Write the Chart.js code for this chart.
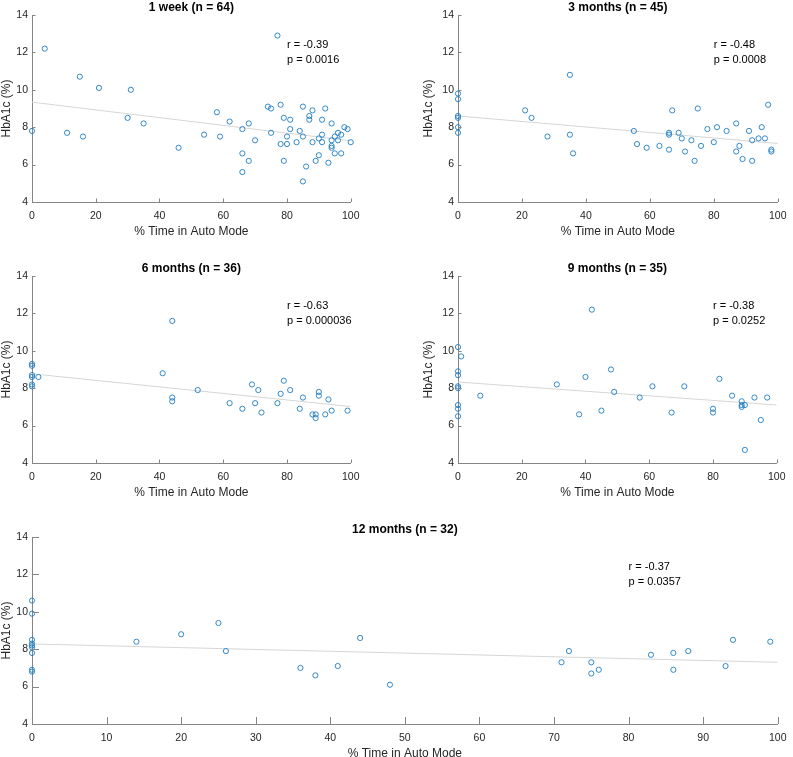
<!DOCTYPE html>
<html>
<head>
<meta charset="utf-8">
<script src="https://cdn.jsdelivr.net/npm/chart.js@4/dist/chart.umd.min.js"></script>
<style>
  html, body { margin: 0; padding: 0; background: #fff; }
  body { width: 793px; height: 757px; position: relative; overflow: hidden; }
  .panel { position: absolute; }
</style>
</head>
<body>
<script>
// values
const week1Time = [0, 4, 11, 15, 16, 21, 30, 31, 35, 46, 54, 58, 59, 62, 66, 66, 66, 68, 68, 70, 74, 75, 75, 77, 78, 78, 79, 79, 80, 80, 81, 81, 83, 84, 85, 85, 85, 86, 87, 87, 88, 88, 89, 90, 90, 91, 91, 91, 92, 93, 94, 94, 94, 94, 95, 95, 96, 96, 97, 97, 98, 99, 100];
const week1HbA1c = [7.8, 12.2, 7.7, 10.7, 7.5, 10.1, 8.5, 10.0, 8.2, 6.9, 7.6, 8.8, 7.5, 8.3, 7.9, 6.6, 5.6, 8.2, 6.2, 7.3, 9.1, 9.0, 7.7, 12.9, 9.2, 7.1, 8.5, 6.2, 7.5, 7.1, 8.4, 7.9, 7.2, 7.8, 9.1, 7.5, 5.1, 5.9, 8.6, 8.4, 8.9, 7.2, 6.2, 6.5, 7.4, 8.4, 7.6, 7.2, 9.0, 6.1, 8.2, 7.3, 7.0, 6.9, 7.5, 6.6, 7.7, 7.3, 7.6, 6.6, 8.0, 7.9, 7.2];

const threeMonthTime = [0, 0, 0, 0, 0, 0, 21, 23, 28, 35, 35, 36, 55, 56, 59, 63, 66, 66, 66, 67, 69, 70, 71, 73, 74, 75, 76, 78, 80, 81, 84, 87, 87, 88, 89, 91, 92, 92, 94, 95, 96, 97, 98, 98];
const threeMonthHbA1c = [9.8, 9.5, 8.6, 8.5, 8.0, 7.7, 8.9, 8.5, 7.5, 10.8, 7.6, 6.6, 7.8, 7.1, 6.9, 7.0, 6.8, 7.7, 7.6, 8.9, 7.7, 7.4, 6.7, 7.3, 6.2, 9.0, 7.0, 7.9, 7.2, 8.0, 7.8, 8.2, 6.7, 7.0, 6.3, 7.8, 6.2, 7.3, 7.4, 8.0, 7.4, 9.2, 6.8, 6.7];

const sixMonthTime = [0, 0, 0, 0, 0, 0, 2, 41, 44, 44, 44, 52, 62, 66, 69, 70, 71, 72, 77, 78, 79, 81, 84, 85, 88, 89, 89, 90, 90, 92, 93, 94, 99];
const sixMonthHbA1c = [9.3, 9.2, 8.7, 8.6, 8.2, 8.1, 8.6, 8.8, 11.6, 7.5, 7.3, 7.9, 7.2, 6.9, 8.2, 7.2, 7.9, 6.7, 7.2, 7.7, 8.4, 7.9, 6.9, 7.5, 6.6, 6.6, 6.4, 7.8, 7.6, 6.6, 7.4, 6.8, 6.8];

const nineMonthTime = [0, 1, 0, 0, 0, 0, 0, 0, 0, 7, 31, 38, 40, 42, 45, 48, 49, 57, 61, 67, 71, 80, 80, 82, 86, 89, 89, 89, 90, 90, 93, 95, 97];
const nineMonthHbA1c = [10.2, 9.7, 8.9, 8.7, 8.1, 8.0, 7.1, 6.9, 6.5, 7.6, 8.2, 6.6, 8.6, 12.2, 6.8, 9.0, 7.8, 7.5, 8.1, 6.7, 8.1, 6.9, 6.7, 8.5, 7.6, 7.3, 7.1, 7.0, 7.1, 4.7, 7.5, 6.3, 7.5];

const twelveMonthTime = [0, 0, 0, 0, 0, 0, 0, 0, 0, 14, 20, 25, 26, 36, 38, 41, 44, 48, 71, 72, 75, 75, 76, 83, 86, 86, 88, 93, 94, 99];
const twelveMonthHbA1c = [10.6, 9.9, 8.5, 8.3, 8.2, 8.1, 7.8, 6.9, 6.8, 8.4, 8.8, 9.4, 7.9, 7.0, 6.6, 7.1, 8.6, 6.1, 7.3, 7.9, 7.3, 6.7, 6.9, 7.7, 7.8, 6.9, 7.9, 7.1, 8.5, 8.4];

// fitted line: HbA1c at 0 % and at 100 % time in auto mode
const fitAtZero = [9.34, 8.6, 8.77, 8.33, 8.28];
const fitAtHundred = [7.27, 7.13, 7.02, 7.1, 7.3];

const panelTitles = ['1 week (n = 64)', '3 months (n = 45)', '6 months (n = 36)', '9 months (n = 35)', '12 months (n = 32)'];
const rValues = ['-0.39', '-0.48', '-0.63', '-0.38', '-0.37'];
const pValues = ['0.0016', '0.0008', '0.000036', '0.0252', '0.0357'];

const xTitle = '% Time in Auto Mode';
const yTitle = 'HbA1c (%)';

const FONT = '"Liberation Sans", Arial, Helvetica, sans-serif';
const AXIS_COLOR = '#858585';
const TEXT_COLOR = '#262626';
const MARKER_COLOR = 'rgb(30,125,195)';
const FIT_COLOR = '#d6d6d6';

// plot-area rectangles (page pixels) for the five axes
const panels = [
    { xs: week1Time, ys: week1HbA1c, l: 32, t: 15, r: 355, b: 202, step: 20, tick: 3.5, gap: 25 },
    { xs: threeMonthTime, ys: threeMonthHbA1c, l: 458, t: 15, r: 782, b: 202, step: 20, tick: 3.5, gap: 29 },
    { xs: sixMonthTime, ys: sixMonthHbA1c, l: 32, t: 276, r: 355, b: 463, step: 20, tick: 3.5, gap: 25 },
    { xs: nineMonthTime, ys: nineMonthHbA1c, l: 458, t: 276, r: 781, b: 463, step: 20, tick: 3.5, gap: 29 },
    { xs: twelveMonthTime, ys: twelveMonthHbA1c, l: 32, t: 537, r: 782, b: 724, step: 10, tick: 7, gap: 25 },
];

const LEFT = 40, TOP = 22, RIGHT = 12, BOTTOM = 38;

// MATLAB-style tick marks pointing into the plot
const innerTicks = {
    id: 'innerTicks',
    afterDraw(chart, args, opts) {
        const { ctx, chartArea, scales: { x, y } } = chart;
        ctx.save();
        ctx.strokeStyle = AXIS_COLOR;
        ctx.lineWidth = 1;
        ctx.beginPath();
        x.ticks.forEach((t) => {
            const px = Math.round(x.getPixelForValue(t.value)) + 0.5;
            ctx.moveTo(px, chartArea.bottom);
            ctx.lineTo(px, chartArea.bottom - opts.length);
        });
        y.ticks.forEach((t) => {
            const py = Math.round(y.getPixelForValue(t.value)) + 0.5;
            ctx.moveTo(chartArea.left, py);
            ctx.lineTo(chartArea.left + opts.length, py);
        });
        ctx.stroke();
        ctx.restore();
    },
};

// r / p text placed at data coordinates, two lines centred on the anchor
const statsLabel = {
    id: 'statsLabel',
    afterDatasetsDraw(chart, args, opts) {
        const { ctx, scales: { x, y } } = chart;
        const px = x.getPixelForValue(opts.at[0]);
        const py = y.getPixelForValue(opts.at[1]);
        ctx.save();
        ctx.font = '11px ' + FONT;
        ctx.fillStyle = '#000';
        ctx.textAlign = 'left';
        ctx.textBaseline = 'middle';
        const mid = (opts.lines.length - 1) / 2;
        opts.lines.forEach((s, i) => ctx.fillText(s, px, py + (i - mid) * 15));
        ctx.restore();
    },
};

panels.forEach((p, i) => {
    const div = document.createElement('div');
    div.className = 'panel';
    const w = p.r - p.l + LEFT + RIGHT;
    const h = p.b - p.t + TOP + BOTTOM;
    div.style.left = (p.l - LEFT) + 'px';
    div.style.top = (p.t - TOP) + 'px';
    div.style.width = w + 'px';
    div.style.height = h + 'px';
    const canvas = document.createElement('canvas');
    canvas.width = w;
    canvas.height = h;
    div.appendChild(canvas);
    document.body.appendChild(div);

    const points = p.xs.map((x, k) => ({ x, y: p.ys[k] }));

    new Chart(canvas, {
        type: 'scatter',
        data: {
            datasets: [
                {
                    data: points,
                    pointStyle: 'circle',
                    pointRadius: 2.6,
                    pointBorderWidth: 0.9,
                    pointBorderColor: MARKER_COLOR,
                    pointBackgroundColor: 'rgba(0,0,0,0)',
                    clip: false,
                },
                {
                    data: [{ x: 0, y: fitAtZero[i] }, { x: 100, y: fitAtHundred[i] }],
                    showLine: true,
                    borderColor: FIT_COLOR,
                    borderWidth: 1,
                    pointRadius: 0,
                },
            ],
        },
        plugins: [innerTicks, statsLabel],
        options: {
            responsive: false,
            animation: false,
            devicePixelRatio: 1,
            layout: { padding: { left: 0, top: 0, right: RIGHT, bottom: 0 } },
            plugins: {
                legend: { display: false },
                tooltip: { enabled: false },
                title: {
                    display: true,
                    text: panelTitles[i],
                    fullSize: false,
                    color: '#000',
                    font: { family: FONT, size: 12, weight: 'bold', lineHeight: 1.2 },
                    padding: { top: 7.8, bottom: -0.2 },
                },
                innerTicks: { length: p.tick },
                statsLabel: { at: [80, 12], lines: ['r = ' + rValues[i], 'p = ' + pValues[i]] },
            },
            scales: {
                x: {
                    type: 'linear',
                    min: 0,
                    max: 100,
                    ticks: {
                        stepSize: p.step,
                        padding: 7.5,
                        color: TEXT_COLOR,
                        maxRotation: 0,
                        autoSkip: false,
                        font: { family: FONT, size: 10.5 },
                    },
                    grid: { display: false, drawTicks: false },
                    border: { display: true, color: AXIS_COLOR, width: 1 },
                    title: {
                        display: true,
                        text: xTitle,
                        color: TEXT_COLOR,
                        font: { family: FONT, size: 12, lineHeight: 1.2 },
                        padding: { top: 0, bottom: 1.5 },
                    },
                    afterFit(scale) { scale.height = BOTTOM; },
                },
                y: {
                    type: 'linear',
                    min: 4,
                    max: 14,
                    ticks: {
                        stepSize: 2,
                        padding: 4,
                        color: TEXT_COLOR,
                        font: { family: FONT, size: 10.5 },
                    },
                    grid: { display: false, drawTicks: false },
                    border: { display: true, color: AXIS_COLOR, width: 1 },
                    title: {
                        display: true,
                        text: yTitle,
                        color: TEXT_COLOR,
                        font: { family: FONT, size: 12, lineHeight: 1.2 },
                        padding: { top: LEFT - p.gap - 7.2, bottom: 0 },
                    },
                    afterFit(scale) { scale.width = LEFT; },
                },
            },
        },
    });
});
</script>
</body>
</html>
